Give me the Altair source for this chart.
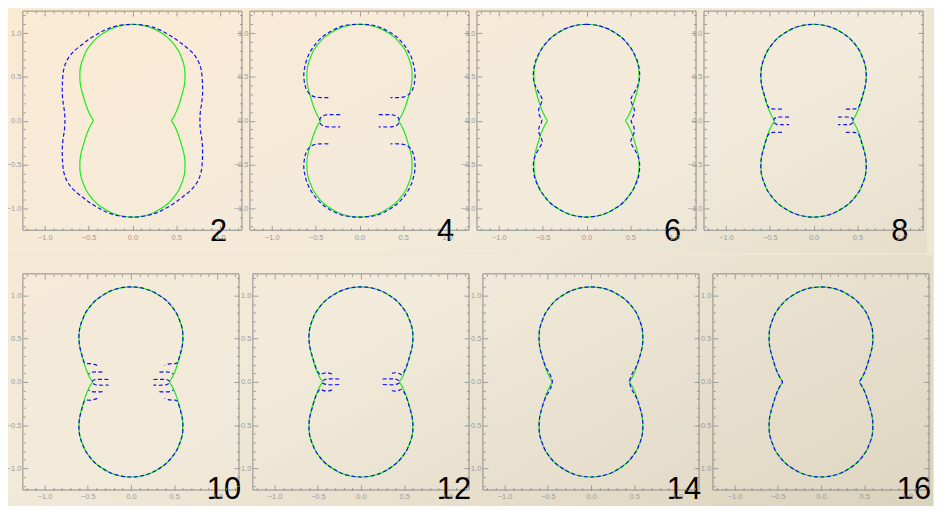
import altair as alt
import pandas as pd

# ---------------- data ----------------
PANEL_LABELS = ["2", "4", "6", "8", "10", "12", "14", "16"]

MAJOR_TICKS = [-1.0, -0.5, 0.0, 0.5, 1.0]
MINOR_TICKS = [-1.2, -1.1, -0.9, -0.8, -0.7, -0.6, -0.4, -0.3, -0.2, -0.1,
               0.1, 0.2, 0.3, 0.4, 0.6, 0.7, 0.8, 0.9, 1.1, 1.2]

# exact shape, first quadrant (top -> waist)
GREEN_X = [0.0, 0.12, 0.24, 0.33, 0.40, 0.45, 0.49, 0.53, 0.555, 0.578, 0.595,
           0.60, 0.598, 0.59, 0.575, 0.558, 0.54, 0.52, 0.495, 0.47, 0.447]
GREEN_Y = [1.10, 1.088, 1.05, 1.00, 0.95, 0.90, 0.85, 0.79, 0.73, 0.67, 0.60,
           0.52, 0.45, 0.39, 0.33, 0.27, 0.21, 0.15, 0.09, 0.04, 0.0]

# N = 2 : closed, first quadrant
B2_X = [0.0, 0.16, 0.29, 0.38, 0.48, 0.56, 0.67, 0.74, 0.78, 0.795, 0.80, 0.80, 0.79, 0.775, 0.77]
B2_Y = [1.10, 1.085, 1.045, 1.00, 0.94, 0.88, 0.79, 0.70, 0.60, 0.50, 0.40, 0.30, 0.20, 0.10, 0.0]

# N = 4 : upper arc (right half) + waist loop (right side)
A4_X = [0.0, 0.17, 0.31, 0.43, 0.52, 0.585, 0.62, 0.635, 0.625, 0.605, 0.565, 0.51, 0.44, 0.355]
A4_Y = [1.10, 1.085, 1.03, 0.95, 0.85, 0.74, 0.63, 0.53, 0.42, 0.355, 0.30, 0.272, 0.264, 0.264]
L4_X = [0.22, 0.31, 0.38, 0.425, 0.45, 0.455, 0.45, 0.425, 0.38, 0.31, 0.22]
L4_Y = [0.068, 0.07, 0.066, 0.05, 0.022, 0.0, -0.025, -0.052, -0.068, -0.072, -0.07]

# N = 6 : closed, first quadrant
B6_X = [0.0, 0.12, 0.24, 0.33, 0.40, 0.45, 0.49, 0.53, 0.56, 0.585, 0.60,
        0.607, 0.60, 0.585, 0.555, 0.52, 0.505, 0.52, 0.545, 0.54, 0.51]
B6_Y = [1.10, 1.088, 1.05, 1.00, 0.95, 0.90, 0.85, 0.79, 0.73, 0.67, 0.60,
        0.52, 0.45, 0.40, 0.34, 0.28, 0.24, 0.19, 0.13, 0.07, 0.0]

# N = 8
A8_X = [0.0, 0.12, 0.24, 0.33, 0.40, 0.45, 0.49, 0.53, 0.556, 0.579, 0.596,
        0.602, 0.598, 0.588, 0.572, 0.555, 0.537, 0.52, 0.495, 0.45, 0.36]
A8_Y = [1.10, 1.088, 1.05, 1.00, 0.95, 0.90, 0.85, 0.79, 0.73, 0.67, 0.60,
        0.52, 0.45, 0.39, 0.33, 0.27, 0.21, 0.165, 0.14, 0.133, 0.133]
L8_X = [0.28, 0.36, 0.42, 0.45, 0.455, 0.45, 0.42, 0.36, 0.28]
L8_Y = [0.04, 0.042, 0.038, 0.02, 0.0, -0.022, -0.042, -0.046, -0.045]

# N = 10
A10_X = [0.0, 0.12, 0.24, 0.33, 0.40, 0.45, 0.49, 0.53, 0.556, 0.579, 0.596,
         0.602, 0.598, 0.588, 0.572, 0.555, 0.54, 0.515, 0.475, 0.43, 0.39]
A10_Y = [1.10, 1.088, 1.05, 1.00, 0.95, 0.90, 0.85, 0.79, 0.73, 0.67, 0.60,
         0.52, 0.45, 0.39, 0.33, 0.27, 0.225, 0.212, 0.212, 0.205, 0.19]
S10_X = [0.33, 0.40, 0.46, 0.49]
S10_Y = [0.113, 0.116, 0.11, 0.092]
L10_X = [0.26, 0.35, 0.42, 0.45, 0.42, 0.35, 0.26]
L10_Y = [0.028, 0.03, 0.025, 0.0, -0.03, -0.038, -0.036]

# N = 12
A12_X = [0.0, 0.12, 0.24, 0.33, 0.40, 0.45, 0.49, 0.53, 0.556, 0.579, 0.596,
         0.602, 0.598, 0.588, 0.572, 0.555, 0.537, 0.515, 0.49, 0.468, 0.44, 0.39, 0.335]
A12_Y = [1.10, 1.088, 1.05, 1.00, 0.95, 0.90, 0.85, 0.79, 0.73, 0.67, 0.60,
         0.52, 0.45, 0.39, 0.33, 0.27, 0.21, 0.15, 0.105, 0.085, 0.098, 0.106, 0.092]
L12_X = [0.25, 0.33, 0.40, 0.44, 0.45, 0.44, 0.40, 0.33, 0.25]
L12_Y = [0.034, 0.036, 0.033, 0.015, 0.0, -0.015, -0.03, -0.033, -0.03]

# N = 14 : closed
B14_X = [0.0, 0.12, 0.24, 0.33, 0.40, 0.45, 0.49, 0.53, 0.555, 0.578, 0.595,
         0.60, 0.598, 0.59, 0.575, 0.558, 0.537, 0.51, 0.485, 0.458, 0.447]
B14_Y = [1.10, 1.088, 1.05, 1.00, 0.95, 0.90, 0.85, 0.79, 0.73, 0.67, 0.60,
         0.52, 0.45, 0.39, 0.33, 0.27, 0.21, 0.15, 0.11, 0.05, 0.0]

# N = 16 : closed
B16_X = [0.0, 0.12, 0.24, 0.33, 0.40, 0.45, 0.49, 0.53, 0.555, 0.578, 0.595,
         0.60, 0.598, 0.59, 0.575, 0.558, 0.54, 0.52, 0.495, 0.465, 0.445]
B16_Y = [1.10, 1.088, 1.05, 1.00, 0.95, 0.90, 0.85, 0.79, 0.73, 0.67, 0.60,
         0.52, 0.45, 0.39, 0.33, 0.27, 0.21, 0.15, 0.09, 0.035, 0.0]


# ---------------- helpers: use the mirror symmetry of the figure ----------------
def closed(xs, ys):
    q = list(zip(xs, ys))
    pts = (q
           + [(x, -y) for x, y in reversed(q[:-1])]
           + [(-x, -y) for x, y in q[1:]]
           + [(-x, y) for x, y in reversed(q[:-1])])
    return [pts]


def arcs(xs, ys):
    half = list(zip(xs, ys))
    upper = [(-x, y) for x, y in reversed(half[1:])] + half
    lower = [(x, -y) for x, y in upper]
    return [upper, lower]


def sides(xs, ys, ymirror=False):
    right = list(zip(xs, ys))
    left = [(-x, y) for x, y in right]
    out = [right, left]
    if ymirror:
        out = out + [[(x, -y) for x, y in p] for p in out]
    return out


BLUE_PIECES = [
    closed(B2_X, B2_Y),
    arcs(A4_X, A4_Y) + sides(L4_X, L4_Y),
    closed(B6_X, B6_Y),
    arcs(A8_X, A8_Y) + sides(L8_X, L8_Y),
    arcs(A10_X, A10_Y) + sides(S10_X, S10_Y, True) + sides(L10_X, L10_Y),
    arcs(A12_X, A12_Y) + sides(L12_X, L12_Y),
    closed(B14_X, B14_Y),
    closed(B16_X, B16_Y),
]
GREEN_PIECES = closed(GREEN_X, GREEN_Y)


def frame_for(k):
    rows = []
    for kind, pieces in (("g", GREEN_PIECES), ("b", BLUE_PIECES[k])):
        for pi, piece in enumerate(pieces):
            for i, (x, y) in enumerate(piece):
                rows.append({"x": x, "y": y, "piece": f"{kind}{pi}", "i": i, "kind": kind})
    return pd.DataFrame(rows)


# ---------------- styling ----------------
LINE_GREEN = "#1BEA1B"
LINE_BLUE = "#1010F0"
TICK_COLOR = "#8a8a8a"
LABEL_COLOR = "#9a9a9a"
AXIS_FONT = "Liberation Sans"

SC = alt.Scale(domain=[-1.25, 1.25], nice=False, zero=False)


def axis(orient, major, labels):
    size = 5 if major else 2.5
    kw = dict(orient=orient, values=MAJOR_TICKS if major else MINOR_TICKS,
              offset=-size, tickSize=size, tickColor=TICK_COLOR, tickWidth=0.8,
              domain=False, grid=False, labels=labels, title=None, zindex=1,
              minExtent=0, maxExtent=40)
    if labels:
        kw.update(format=".1f", labelFont=AXIS_FONT, labelFontSize=7.5,
                  labelColor=LABEL_COLOR, labelFlush=False, labelOverlap=False,
                  labelPadding=3 if orient == "bottom" else 2)
    return alt.Axis(**kw)


def gradient(x2, y2, c0, mid_off, c_mid, c1):
    return {"gradient": "linear", "x1": 0, "y1": 0, "x2": x2, "y2": y2,
            "stops": [{"offset": 0, "color": c0},
                      {"offset": mid_off, "color": c_mid},
                      {"offset": 1, "color": c1}]}


# one diagonal page background (peach -> tan), split over the two rows
BG_ROW1 = gradient(1.201, 0.593, "#FCEAD2", 0.669, "#F1E9D8", "#E6DECA")
BG_ROW2 = gradient(1.199, 0.607, "#F7E9D5", 0.336, "#F1E9D8", "#DBD2BC")

ONE = pd.DataFrame({"t": [0]})


def panel(k, w, h, text_x, text_y, bg=None):
    df = frame_for(k)
    base = alt.Chart(df)
    layers = []
    if bg is not None:
        fill, x0, x1, y0, y1 = bg
        layers.append(alt.Chart(ONE).mark_rect(fill=fill, strokeWidth=0).encode(
            x=alt.value(x0), x2=alt.value(x1), y=alt.value(y0), y2=alt.value(y1)))
    layers.append(alt.Chart(ONE).mark_rect(fill="white", fillOpacity=0.08,
                                           stroke="#8c8c8c", strokeWidth=1).encode(
        x=alt.value(0), x2=alt.value(w), y=alt.value(0), y2=alt.value(h)))
    green = base.transform_filter("datum.kind == 'g'").mark_line(
        color=LINE_GREEN, strokeWidth=1.2, interpolate="catmull-rom").encode(
        x=alt.X("x:Q", scale=SC, axis=axis("bottom", True, True)),
        y=alt.Y("y:Q", scale=SC, axis=axis("left", True, True)),
        detail="piece:N", order="i:Q")
    blue = base.transform_filter("datum.kind == 'b'").mark_line(
        color=LINE_BLUE, strokeWidth=1.2, strokeDash=[4, 2.5], interpolate="catmull-rom").encode(
        x=alt.X("x:Q", scale=SC, axis=axis("bottom", False, False)),
        y=alt.Y("y:Q", scale=SC, axis=axis("left", False, False)),
        detail="piece:N", order="i:Q")
    t1 = base.mark_point(opacity=0).encode(
        x=alt.X("x:Q", scale=SC, axis=axis("top", True, False)),
        y=alt.Y("y:Q", scale=SC, axis=axis("right", True, False)))
    t2 = base.mark_point(opacity=0).encode(
        x=alt.X("x:Q", scale=SC, axis=axis("top", False, False)),
        y=alt.Y("y:Q", scale=SC, axis=axis("right", False, False)))
    txt = alt.Chart(pd.DataFrame({"t": [PANEL_LABELS[k]]})).mark_text(
        font="Liberation Sans", fontSize=31, align="right", baseline="alphabetic",
        color="black").encode(text="t:N", x=alt.value(text_x), y=alt.value(text_y))
    layers += [green, blue, t1, t2, txt]
    return alt.layer(*layers).resolve_axis(x="independent", y="independent").properties(
        width=w, height=h)


W1, H1, W2, H2 = 221, 221, 218, 218
row1 = alt.hconcat(
    *[panel(k, W1, H1, W1 - 15, H1 + 11,
            (BG_ROW1, -24, 912, -8, 244) if k == 0 else None)
      for k in range(4)],
    spacing=8, bounds="flush")
row2 = alt.hconcat(
    *[panel(k, W2, H2, W2 + 2, H2 + 9,
            (BG_ROW2, -18, 918, -19, 241) if k == 4 else None)
      for k in range(4, 8)],
    spacing=14, bounds="flush")

chart = alt.vconcat(row1, row2, spacing=0).properties(
    padding={"left": -10, "top": -8, "right": 0, "bottom": -10}
).configure(background="#EFE6D3").configure_view(stroke="transparent")

chart.save("out.html", embed_options={"renderer": "svg", "actions": False})
